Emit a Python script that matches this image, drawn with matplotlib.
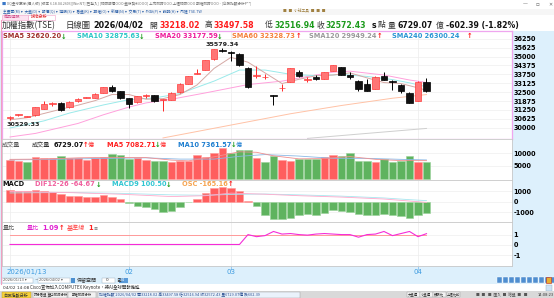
import matplotlib
matplotlib.use("Agg")
import matplotlib.pyplot as plt
from matplotlib.patches import Rectangle
import matplotlib.transforms as mtransforms

W, H = 554, 298

# ---- daily candles, 2026/01/13 .. 2026/04/02 (50 sessions) ----
opens = [30700, 30880, 30780, 30870, 31340, 31680, 31740, 31435, 31860, 32100,
         32090, 32440, 32845, 32560, 32090, 31790, 32200, 32280, 31950, 31970,
         32490, 33080, 33780, 34040, 34790, 35440, 35330, 35190, 34205, 33640,
         33530, 32300, 32770, 33200, 33900, 33360, 33570, 33450, 33975, 34255,
         33735, 33310, 33080, 32745, 33620, 33300, 33030, 32445, 31900, 33218]
highs = [30800, 30960, 30850, 31480, 31900, 31780, 31790, 31900, 32080, 32180,
         32430, 32870, 33030, 32600, 32120, 32250, 32380, 32300, 32000, 32480,
         33120, 33650, 34150, 34760, 35540, 35579, 35380, 35260, 34240, 34325,
         33780, 32330, 33050, 34200, 34050, 33560, 33720, 33930, 34400, 34290,
         33900, 33350, 33390, 33600, 33930, 33320, 33060, 32480, 33290, 33498]
lows = [30529, 30820, 30740, 30850, 31300, 31500, 31200, 31400, 31830, 32060,
        32060, 32420, 32520, 32050, 31385, 31750, 32100, 31820, 31195, 31940,
        32470, 33060, 33760, 34020, 34770, 35330, 34700, 34330, 32800, 33500,
        33400, 31620, 32560, 33180, 33580, 33200, 33380, 33420, 33950, 33700,
        33450, 32560, 32560, 32720, 33350, 32675, 32450, 31700, 31880, 32517]
closes = [30740, 30930, 30820, 31435, 31670, 31720, 31265, 31790, 32020, 32140,
          32375, 32845, 32560, 32090, 31690, 32210, 32300, 31860, 31990, 32445,
          33080, 33620, 33870, 34720, 35500, 35410, 35230, 34395, 32845, 33680,
          33570, 32260, 32810, 34160, 33665, 33400, 33430, 33900, 34370, 33735,
          33570, 32745, 32605, 33550, 33380, 33240, 32560, 31740, 33175, 32572]

# volume (億) and its colour (1 = red, 0 = green)
volume = [7280, 6890, 6630, 8600, 8200, 7940, 9120, 8330, 8330, 7410,
          7940, 8600, 9650, 9510, 7550, 8200, 7280, 7020, 7020, 6630,
          6890, 7020, 9510, 8600, 10300, 12270, 10300, 11220, 11220, 7940,
          6370, 8860, 7500, 7060, 7750, 7620, 7600, 8650, 9330, 8870,
          10000, 7060, 7060, 6670, 7750, 6670, 7060, 8870, 6670, 6729]
vol_red = [1, 1, 0, 1, 1, 1, 0, 1, 1, 1, 1, 1, 0, 0, 0, 1, 1, 0, 0, 1,
           1, 1, 1, 1, 1, 1, 0, 0, 0, 1, 0, 0, 1, 1, 0, 0, 0, 1, 1, 0,
           0, 0, 0, 1, 0, 0, 0, 0, 1, 0]

# MACD histogram (as drawn)
osc = [1090, 1030, 1000, 1090, 1000, 935, 685, 560, 530, 467,
       467, 623, 467, 218, -100, -374, -467, -685, -935, -841,
       -467, -60, 250, 780, 1246, 1400, 1310, 1030, 60, -374,
       -1246, -1650, -1650, -1557, -1246, -1150, -1246, -1030, -780, -841,
       -935, -1150, -1246, -1246, -1150, -1246, -1340, -1557, -1246, -1030]

# 量比
ratio = [0.05, 0.05, 0.05, 0.05, 0.05, 0.05, 0.05, 0.05, 0.05, 0.05,
         0.05, 0.05, 0.05, 0.05, 0.05, 0.05, 0.05, 0.05, 0.05, 0.05,
         0.05, 0.05, 0.05, 0.05, 0.05, 0.05, 0.05, 0.05, 1.0, 0.8,
         0.9, 1.3, 1.05, 1.1, 1.0, 0.95, 1.05, 1.1, 1.05, 1.0,
         1.0, 0.75, 1.0, 1.05, 1.3, 0.9, 1.1, 1.3, 0.8, 1.09]

# moving averages at some sessions
sma5_i = [1, 3, 5, 7, 9, 11, 13, 15, 17, 19, 21, 23, 25, 27, 29, 31, 33, 35, 37, 39, 41, 43, 45, 47, 49, 50]
sma5_v = [30560, 30700, 31000, 31300, 31580, 31900, 32330, 32330, 32000, 32040, 32330, 33000, 34160,
          34940, 34600, 33850, 33100, 33400, 33650, 33700, 33850, 33500, 33170, 33100, 32800, 32620]
sma10_i = [1, 5, 8, 12, 15, 18, 21, 25, 28, 31, 34, 37, 40, 43, 46, 48, 50]
sma10_v = [29980, 30480, 31030, 31600, 31970, 32090, 32400, 33270, 34050, 34050, 33750, 33650,
           33735, 33600, 33380, 33150, 32875]
sma20_i = [1, 4, 9, 12, 15, 17, 20, 24, 29, 33, 36, 39, 41, 45, 48, 50]
sma20_v = [29350, 29600, 30300, 30910, 31450, 31740, 32000, 32445, 33030, 33270, 33600, 33900,
           33970, 33700, 33350, 33177]
sma60_i = [19, 22, 28, 34, 40, 46, 50]
sma60_v = [29280, 29620, 30300, 30980, 31560, 32070, 32328]
sma120_i = [36, 43, 50]
sma120_v = [29250, 29600, 29949]

vma5_i = [1, 5, 9, 13, 17, 20, 22, 25, 28, 30, 32, 35, 38, 41, 44, 47, 50]
vma5_v = [7600, 7700, 8200, 8400, 8300, 7300, 7000, 8600, 10600, 10400, 9000, 7800, 7900, 8700,
          7600, 7100, 7083]
vma10_i = [1, 5, 9, 13, 17, 21, 25, 28, 31, 35, 39, 43, 47, 50]
vma10_v = [7400, 7500, 7800, 8000, 8200, 7700, 7700, 8800, 9500, 8900, 8000, 8000, 7600, 7362]

dif_i = [1, 8, 14, 20, 24, 27, 31, 35, 40, 45, 48, 50]
dif_v = [950, 850, 700, 480, 560, 800, 700, 560, 430, 250, 60, -65]
dea_i = [1, 8, 14, 20, 24, 27, 31, 35, 40, 45, 48, 50]
dea_v = [820, 860, 780, 640, 600, 680, 720, 640, 520, 350, 190, 100]

tick_idx = [1, 15, 27, 49]
tick_lab = ['2026/01/13', '02', '03', '04']

price_ticks = [36250, 35625, 35000, 34375, 33750, 33125, 32500, 31875, 31250, 30625, 30000]

CJK = ['Noto Sans CJK TC', 'DejaVu Sans']
LAT = ['DejaVu Sans', 'Noto Sans CJK TC']

fig = plt.figure(figsize=(W / 100, H / 100), dpi=100)
fig.patch.set_facecolor('#ddf0fc')


def rect(x0, y0, x1, y1, fc, ec='none', lw=0.5, z=0):
    fig.add_artist(Rectangle((x0 / W, 1 - y1 / H), (x1 - x0) / W, (y1 - y0) / H,
                             transform=fig.transFigure, facecolor=fc, edgecolor=ec, lw=lw, zorder=z))


def txt(x, y, s, color='#000000', size=5, weight='normal', fam=LAT, ha='left'):
    fig.text(x / W, 1 - y / H, s, color=color, fontsize=size, fontweight=weight,
             family=fam, ha=ha, va='center')


def panel(x0, y0, x1, y1):
    a = fig.add_axes([x0 / W, 1 - y1 / H, (x1 - x0) / W, (y1 - y0) / H])
    a.set_facecolor('white')
    a.set_xlim(0.06, 60.06)
    a.yaxis.tick_right()
    a.tick_params(axis='y', length=0, pad=1.2, labelsize=4.7)
    a.tick_params(axis='x', length=0, labelbottom=False)
    for s in a.spines.values():
        s.set_color('#c8c8c8')
        s.set_linewidth(0.6)
    for t in tick_idx:
        a.axvline(t, color='#ececec', lw=0.5, zorder=0)
    return a


# ---- window chrome ----
rect(0, 0, W, 8.5, '#ffffff')
rect(0, 8.5, W, 14.5, '#f6f6f6')
rect(0, 14.5, W, 31, '#ffffff')
rect(2, 14.8, 28, 19.5, '#fde3f1', '#f0a0c8', 0.4)
rect(28, 14.8, 55, 19.5, '#ffffff', '#f0a0c8', 0.4)
txt(2, 4, '■', '#3a78c8', 3.2)
txt(7, 4, 'XQ全球贏家(個人版) [版本 6.18.04.2603][WinNT][已登入] [即時報價OOO 盤後資料OOO] 上市即時OOO 上櫃即時OOO 期權即時OOO - [台股指數分析P**]',
    '#707070', 2.6, fam=CJK)
txt(523, 4, '—', '#666666', 3.5)
txt(536, 4, '▫', '#666666', 4)
txt(548, 4, '✕', '#666666', 3.5)
txt(3, 11.5, '主畫面(M) ▾  大盤(D) ▾  報價(Q) ▾  選股(S) ▾  看盤(K) ▾  期權(O) ▾  新聞(N) ▾  交易(T) ▾  外掛(P) ▾  說明(H) ▾  內建 TSE.TW',
    '#2b5fa8', 2.7, fam=CJK)
txt(283, 11.5, '■  ■  小秘工具  ■  ■  ■', '#a08040', 2.7, fam=CJK)
txt(4, 17.2, '商品選股', '#d0508a', 3, fam=CJK)
txt(31, 17.2, '技術分析', '#e02020', 3, fam=CJK)

# header line
hy = 25.5
txt(2, hy, '加權指數(TSE)', '#333333', 6.0, fam=CJK)
txt(66, hy, '日線圖', '#333333', 6.0, fam=CJK)
txt(93, hy, '2026/04/02', '#111111', 5.8, 'bold')
txt(149.5, hy, '開', '#333333', 5.6, fam=CJK)
txt(160, hy, '33218.02', '#ff1a1a', 5.6, 'bold')
txt(204.5, hy, '高', '#333333', 5.6, fam=CJK)
txt(214, hy, '33497.58', '#ff1a1a', 5.6, 'bold')
txt(264.5, hy, '低', '#333333', 5.6, fam=CJK)
txt(275, hy, '32516.94', '#1b9a1b', 5.6, 'bold')
txt(316.5, hy, '收', '#333333', 5.6, fam=CJK)
txt(325.5, hy, '32572.43', '#1b9a1b', 5.6, 'bold')
txt(372, hy, 's', '#111111', 5.6, 'bold')
txt(378, hy, '點', '#333333', 5.6, fam=CJK)
txt(387.5, hy, '量', '#333333', 5.6, fam=CJK)
txt(397, hy, '6729.07', '#111111', 5.6, 'bold')
txt(436, hy, '億', '#333333', 5.6, fam=CJK)
txt(445.5, hy, '-602.39 (-1.82%)', '#111111', 5.6, 'bold')

# ---- price panel ----
x = list(range(1, len(closes) + 1))
ax1 = panel(2, 31, 512, 139)
ax1.set_ylim(29207, 36791)
ax1.set_yticks(price_ticks)
ax1.set_yticklabels([str(p) for p in price_ticks], fontweight='bold')
ax1.grid(axis='y', color='#eeeeee', lw=0.5, zorder=0)
for s in ax1.spines.values():
    s.set_color('#efa6ef')
    s.set_linewidth(0.9)

ax1.plot(sma120_i, sma120_v, color='#cfcfcf', lw=0.7, zorder=2)
ax1.plot(sma60_i, sma60_v, color='#ffc2a6', lw=0.7, zorder=2)
ax1.plot(sma20_i, sma20_v, color='#ffa0dc', lw=0.7, zorder=2)
ax1.plot(sma10_i, sma10_v, color='#9aeaea', lw=0.7, zorder=2)
ax1.plot(sma5_i, sma5_v, color='#d5a8a4', lw=0.7, zorder=2)

up = [c >= o for o, c in zip(opens, closes)]
fills = ['#ff7676' if u else '#111111' for u in up]
edges = ['#ff3b3b' if u else '#000000' for u in up]
wicks = ['#ff2626' if u else '#000000' for u in up]
body_b = [min(o, c) for o, c in zip(opens, closes)]
body_h = [max(abs(c - o), 25) for o, c in zip(opens, closes)]
ax1.vlines(x, lows, highs, colors=wicks, lw=0.7, zorder=3)
ax1.bar(x, body_h, bottom=body_b, width=0.72, color=fills, edgecolor=edges, linewidth=0.5, zorder=4)

hi_i = highs.index(max(highs))
lo_i = lows.index(min(lows))
ax1.annotate(f'{35579.34:.2f}', (x[hi_i], highs[hi_i]), xytext=(0, 0.6), textcoords='offset points',
             ha='center', va='bottom', fontsize=4.6, fontweight='bold', color='#222222')
ax1.annotate(f'{30529.33:.2f}', (x[lo_i], lows[lo_i]), xytext=(-2.3, -1.2), textcoords='offset points',
             ha='left', va='top', fontsize=4.6, fontweight='bold', color='#222222')

sy = 36.5
sma_labels = [(3, 'SMA5 32620.20', '#a0302c', 61, '↓'),
              (77, 'SMA10 32875.63', '#2cc6c6', 139, '↓'),
              (155, 'SMA20 33177.59', '#ee1c9c', 217, '↓'),
              (232, 'SMA60 32328.73', '#f5813a', 296, '↑'),
              (309, 'SMA120 29949.24', '#9a9a9a', 377, '↑'),
              (392, 'SMA240 26300.24', '#2b96d4', 467, '↑')]
for lx, s, c, axx, arr in sma_labels:
    txt(lx, sy, s, c, 4.8, 'bold')
    txt(axx, sy, arr, '#1b9a1b' if arr == '↓' else '#ff1a1a', 4.8, 'bold')

# ---- volume panel ----
ax2 = panel(2, 139, 512, 180)
ax2.set_ylim(-595, 15674)
ax2.set_yticks([5000, 10000])
ax2.set_yticklabels(['5000', '10000'], fontweight='bold')
ax2.grid(axis='y', color='#eeeeee', lw=0.5, zorder=0)
vcols = ['#ff5e5e' if r else '#5fb35f' for r in vol_red]
vedge = ['#ff9a9a' if r else '#9ad29a' for r in vol_red]
ax2.bar(x, volume, width=0.88, color=vcols, edgecolor=vedge, linewidth=0.4, zorder=2)
ax2.plot(vma10_i, vma10_v, color='#8ab8e6', lw=0.6, zorder=3)
ax2.plot(vma5_i, vma5_v, color='#f09090', lw=0.6, zorder=3)

vy = 145
txt(2, vy, '成交量', '#555555', 4.4, fam=CJK)
txt(32, vy, '成交量', '#333333', 4.4, fam=CJK)
txt(54, vy, '6729.07', '#111111', 4.8, 'bold')
txt(83, vy, '↑', '#ff1a1a', 4.8, 'bold')
txt(88, vy, '億', '#ff3030', 4.4, fam=CJK)
txt(107, vy, 'MA5 7082.71', '#ff2020', 4.8, 'bold')
txt(155, vy, '↓', '#1b9a1b', 4.8, 'bold')
txt(160, vy, '億', '#ff3030', 4.4, fam=CJK)
txt(178, vy, 'MA10 7361.57', '#1f7fd0', 4.8, 'bold')
txt(231, vy, '↓', '#1b9a1b', 4.8, 'bold')
txt(236, vy, '億', '#1f7fd0', 4.4, fam=CJK)

# ---- MACD panel ----
ax3 = panel(2, 180, 512, 222)
ax3.set_ylim(-1897, 2028)
ax3.set_yticks([-1000, 0, 1000])
ax3.set_yticklabels(['-1000', '0', '1000'], fontweight='bold')
ax3.grid(axis='y', color='#eeeeee', lw=0.5, zorder=0)
ocols = ['#ff5e5e' if v >= 0 else '#5fb35f' for v in osc]
oedge = ['#ff9a9a' if v >= 0 else '#9ad29a' for v in osc]
ax3.bar(x, osc, width=0.88, color=ocols, edgecolor=oedge, linewidth=0.4, zorder=2)
ax3.plot(dea_i, dea_v, color='#a8e6ef', lw=0.6, zorder=3)
ax3.plot(dif_i, dif_v, color='#ffaacc', lw=0.6, zorder=3)

my = 184.5
txt(2, my, 'MACD', '#111111', 4.8, 'bold')
txt(35, my, 'DIF12-26 -64.67', '#f0609e', 4.8, 'bold')
txt(96, my, '↓', '#1b9a1b', 4.8, 'bold')
txt(112, my, 'MACD9 100.50', '#30c6d2', 4.8, 'bold')
txt(166, my, '↓', '#1b9a1b', 4.8, 'bold')
txt(182, my, 'OSC -165.16', '#f6a552', 4.8, 'bold')
txt(228, my, '↑', '#ff1a1a', 4.8, 'bold')

# ---- 量比 panel ----
ax4 = panel(2, 222, 512, 265.5)
ax4.set_ylim(-1.97, 2.21)
ax4.set_yticks([-1, 0, 1])
ax4.set_yticklabels(['-1', '0', '1'], fontweight='bold')
ax4.grid(axis='y', color='#eeeeee', lw=0.5, zorder=0)
ax4.plot([x[0], x[-1]], [1, 1], color='#ff9a9a', lw=0.7, zorder=2)
ax4.plot(x, ratio, color='#f52cd8', lw=0.8, zorder=3)
ax4.set_xticks(tick_idx)
ax4.tick_params(axis='x', length=3, color='#8cc4ee', width=0.6, direction='out')

ry = 228.5
txt(3, ry, '量比', '#555555', 4.4, fam=CJK)
txt(27, ry, '量比', '#e020d0', 4.4, fam=CJK)
txt(42, ry, '1.09', '#e020d0', 4.8, 'bold')
txt(59, ry, '↑', '#ff1a1a', 4.8, 'bold')
txt(67, ry, '基準線', '#ff4040', 4.4, fam=CJK)
txt(88, ry, '1', '#ff2020', 4.8, 'bold')
txt(94, ry, '≡', '#555555', 3.5)

# date labels under the last panel
tr = mtransforms.blended_transform_factory(ax4.transData, fig.transFigure)
for t, lab in zip(tick_idx, tick_lab):
    if t == tick_idx[0]:
        ax4.text(t - 0.4, 1 - 272 / H, lab, transform=tr, ha='left', va='center',
                 fontsize=5, color='#3d9be0')
    else:
        ax4.text(t, 1 - 272 / H, lab, transform=tr, ha='center', va='center',
                 fontsize=5, color='#3d9be0')

# left pink border
fig.add_artist(plt.Line2D([1.2 / W, 1.2 / W], [1 - 284 / H, 1 - 20 / H], transform=fig.transFigure,
                          color='#f0a0c0', lw=0.8))

# ---- bottom chrome ----
rect(2, 277.5, 33, 283, '#ffffff', '#9ab', 0.3)
txt(3, 280.3, '2026/01/13 ▾', '#555555', 2.6)
txt(35, 280.3, '~', '#333333', 3)
rect(38, 277.5, 70, 283, '#ffffff', '#9ab', 0.3)
txt(39, 280.3, '2026/04/02 ▾', '#555555', 2.6)
rect(71, 277.5, 75, 283, '#4a8fd0')
txt(77, 280.3, '保留空間', '#333333', 3.6, fam=CJK)
rect(102, 277.5, 115, 283, '#ffffff', '#9ab', 0.3)
txt(106, 280.3, '0', '#333333', 3)
txt(116, 280.3, '日', '#333333', 3.6, fam=CJK)
rect(119, 277.5, 128, 283, '#5a9ad8')
txt(120, 280.3, '24', '#ffffff', 3)
for bx in range(497, 552, 6):
    rect(bx, 277, bx + 5, 283, '#4f8ed0', '#ffffff', 0.3)
rect(546, 277, 551, 283, '#e8b030', '#c02020', 0.4)

rect(0, 283.7, W, 284.4, '#f07a7a')
rect(0, 284.4, W, 291, '#ffffff')
txt(3, 287.6, '04/02 14:08', '#333333', 3.2)
txt(30, 287.6, 'Cisco宣佈加入COMPUTEX Keynote，將AI全球開發推進', '#333333', 3.2, fam=CJK)
rect(546, 284.6, 552, 290.8, '#cfe3f6', '#8ab', 0.3)

rect(0, 291, W, H, '#d9d9d9')
rect(2, 291.8, 31, 297.5, '#f6d23a', '#b09030', 0.3)
txt(3.5, 294.6, '台股指數分析', '#333333', 3.0, fam=CJK)
tabs = [(33, 48, '評分看盤'), (49, 67, '盤中即時分析'), (68, 96, '期權即時分析')]
for a0, a1, s in tabs:
    rect(a0, 291.8, a1, 297.5, '#f2f2f2', '#999999', 0.3)
    txt((a0 + a1) / 2, 294.6, s, '#333333', 2.4, fam=CJK, ha='center')
rect(98, 291.8, 300, 297.5, '#eaf2fb', '#999999', 0.3)
txt(99, 294.6, '加權指數 2026/04/02 開33218.02 高33497.58 低32516.94 收32572.43 量6729.07億 跌602.39',
    '#2a4f90', 2.8, fam=CJK)
for a0, s in [(407, '大盤選'), (420, '小盤選'), (433, '類股比'), (447, '上櫃比較')]:
    rect(a0, 292, a0 + 12.5, 297.3, '#f2f2f2', '#999999', 0.3)
    txt(a0 + 6.25, 294.6, s, '#333333', 2.4, fam=CJK, ha='center')
txt(476, 294.6, '■  ■   ■  匯入  ■  暗盤  ■   ■', '#555555', 2.7, fam=CJK)
txt(538, 294.6, '14:08:23', '#333333', 2.6)

fig.savefig('out.png', dpi=100, facecolor=fig.get_facecolor())
